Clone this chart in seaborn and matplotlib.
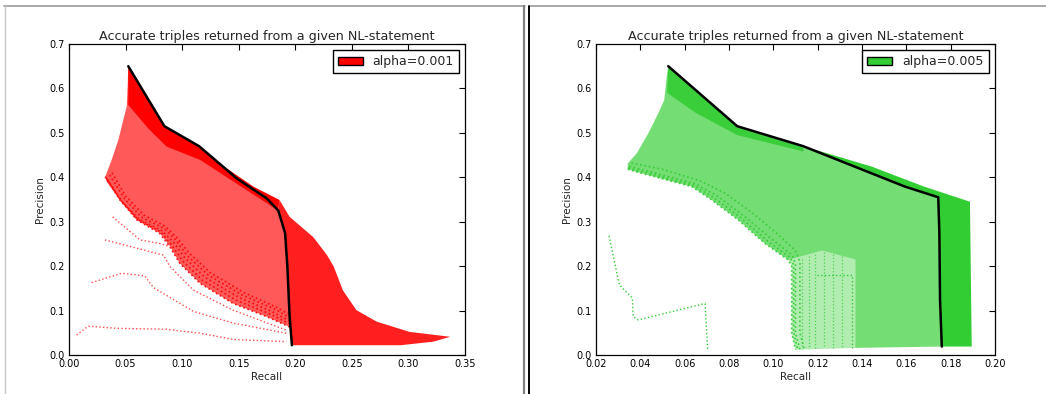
import numpy as np
import matplotlib
matplotlib.use('Agg')
import matplotlib.pyplot as plt
import seaborn as sns
from matplotlib.patches import Patch
from matplotlib.lines import Line2D

# ---------------- data ----------------
TITLE = "Accurate triples returned from a given NL-statement"

# Left panel (alpha=0.001)
L_black_r = [0.0524, 0.0843, 0.115, 0.148, 0.175, 0.185, 0.191, 0.193, 0.195, 0.197]
L_black_p = [0.650, 0.515, 0.470, 0.398, 0.352, 0.325, 0.274, 0.199, 0.086, 0.022]
L_left_r = [0.0524, 0.0518, 0.051, 0.048, 0.0436, 0.0377, 0.032]
L_left_p = [0.650, 0.604, 0.559, 0.529, 0.484, 0.439, 0.401]
L_low_r = [0.032, 0.0333, 0.045, 0.0598, 0.0804, 0.0893, 0.098, 0.116, 0.145, 0.175, 0.196]
L_low_p = [0.401, 0.390, 0.349, 0.304, 0.274, 0.244, 0.206, 0.161, 0.116, 0.086, 0.062]
L_band_r = [0.0524, 0.0524, 0.070, 0.0863, 0.116, 0.157, 0.185]
L_band_p = [0.650, 0.563, 0.510, 0.469, 0.439, 0.371, 0.325]
L_top_r = [0.128, 0.163, 0.186]
L_top_p = [0.440, 0.379, 0.349]
L_outer_r = [0.186, 0.195, 0.216, 0.228, 0.234, 0.242, 0.254, 0.272, 0.301, 0.337]
L_outer_p = [0.349, 0.311, 0.265, 0.225, 0.199, 0.146, 0.101, 0.075, 0.052, 0.041]
L_bottom_r = [0.337, 0.322, 0.293, 0.235, 0.197]
L_bottom_p = [0.041, 0.030, 0.022, 0.022, 0.022]
L_bundle = [
    ([0.032, 0.045, 0.060, 0.080, 0.089, 0.098, 0.116, 0.145, 0.175, 0.196],
     [0.401, 0.349, 0.304, 0.274, 0.244, 0.206, 0.161, 0.116, 0.086, 0.062]),
    ([0.033, 0.046, 0.061, 0.081, 0.090, 0.100, 0.118, 0.148, 0.178, 0.196],
     [0.398, 0.347, 0.305, 0.277, 0.250, 0.213, 0.168, 0.123, 0.092, 0.069]),
    ([0.034, 0.047, 0.062, 0.082, 0.092, 0.102, 0.120, 0.150, 0.180, 0.196],
     [0.395, 0.345, 0.305, 0.280, 0.255, 0.220, 0.175, 0.130, 0.097, 0.075]),
    ([0.036, 0.049, 0.064, 0.084, 0.094, 0.104, 0.123, 0.153, 0.182, 0.196],
     [0.405, 0.352, 0.310, 0.285, 0.260, 0.225, 0.180, 0.135, 0.103, 0.083]),
    ([0.038, 0.050, 0.066, 0.085, 0.095, 0.106, 0.125, 0.155, 0.183, 0.196],
     [0.410, 0.358, 0.315, 0.290, 0.265, 0.230, 0.185, 0.140, 0.108, 0.090]),
]
L_stray = [
    ([0.0067, 0.017, 0.042, 0.086, 0.116, 0.145, 0.192],
     [0.045, 0.065, 0.060, 0.058, 0.049, 0.035, 0.030]),
    ([0.020, 0.0466, 0.067, 0.0745, 0.110, 0.145, 0.192],
     [0.163, 0.184, 0.178, 0.152, 0.098, 0.072, 0.049]),
    ([0.0318, 0.0834, 0.0893, 0.110, 0.145, 0.192],
     [0.259, 0.225, 0.199, 0.146, 0.101, 0.056]),
    ([0.0386, 0.0628, 0.080, 0.089],
     [0.311, 0.259, 0.251, 0.244]),
]

# Right panel (alpha=0.005)
R_black_r = [0.0526, 0.0837, 0.1135, 0.1594, 0.1744, 0.1749, 0.1752, 0.176]
R_black_p = [0.650, 0.515, 0.470, 0.379, 0.355, 0.274, 0.124, 0.019]
R_left_r = [0.0526, 0.0519, 0.0508, 0.0481, 0.0436, 0.0384, 0.0343, 0.0343]
R_left_p = [0.650, 0.626, 0.574, 0.544, 0.499, 0.454, 0.431, 0.418]
R_low_r = [0.0343, 0.0406, 0.0632, 0.0722, 0.0842, 0.0962, 0.1068]
R_low_p = [0.418, 0.409, 0.379, 0.349, 0.304, 0.251, 0.214]
R_light_r = [0.1068, 0.1083, 0.1083, 0.110, 0.137, 0.137, 0.122]
R_light_p = [0.214, 0.199, 0.050, 0.012, 0.016, 0.215, 0.235]
R_band_r = [0.0526, 0.0521, 0.065, 0.0837, 0.1135]
R_band_p = [0.650, 0.590, 0.545, 0.495, 0.458]
R_top_r = [0.1135, 0.1444, 0.168, 0.1887]
R_top_p = [0.470, 0.424, 0.379, 0.345]
R_right_r = [0.1887, 0.1895, 0.176]
R_right_p = [0.345, 0.019, 0.019]
R_bundle = [
    ([0.0343, 0.0406, 0.0632, 0.0722, 0.0842, 0.0962, 0.1068, 0.1083, 0.1083, 0.110],
     [0.418, 0.409, 0.379, 0.349, 0.304, 0.251, 0.214, 0.199, 0.050, 0.012]),
    ([0.0346, 0.043, 0.064, 0.0735, 0.0855, 0.0975, 0.1077, 0.1092, 0.1092, 0.111],
     [0.421, 0.410, 0.382, 0.353, 0.308, 0.256, 0.219, 0.202, 0.050, 0.012]),
    ([0.035, 0.045, 0.065, 0.075, 0.087, 0.099, 0.1085, 0.110, 0.110, 0.112],
     [0.425, 0.412, 0.385, 0.357, 0.312, 0.262, 0.225, 0.205, 0.050, 0.012]),
    ([0.036, 0.050, 0.067, 0.078, 0.090, 0.102, 0.110, 0.112, 0.112, 0.114],
     [0.432, 0.418, 0.392, 0.365, 0.322, 0.272, 0.235, 0.210, 0.050, 0.012]),
]
R_vert_x = [0.113, 0.116, 0.119, 0.123, 0.127, 0.131]
R_vert_top = [0.215, 0.222, 0.228, 0.232, 0.228, 0.222]
R_vert_bot = [0.014, 0.014, 0.015, 0.015, 0.015, 0.016]
R_stray = [
    ([0.0259, 0.0305, 0.0364, 0.0368, 0.0391, 0.0692, 0.0696, 0.0704],
     [0.268, 0.158, 0.128, 0.086, 0.079, 0.116, 0.079, 0.011]),
    ([0.1196, 0.1353, 0.1353],
     [0.180, 0.180, 0.015]),
]

RED = '#ff0000'
GREEN = '#32cd32'

# ---------------- drawing ----------------
sns.set_style('white')
plt.rcParams['font.family'] = ['DejaVu Sans']

W, H = 1046, 394
fig = plt.figure(figsize=(W / 100, H / 100), dpi=100)
axL = fig.add_axes([69 / W, 39 / H, 396 / W, 311 / H])
axR = fig.add_axes([596 / W, 39 / H, 399 / W, 311 / H])


def cat(*arrs):
    return np.concatenate([np.asarray(a, dtype=float) for a in arrs])


def dotted(ax, r, p, color, lw=1.0, alpha=1.0):
    sns.lineplot(x=r, y=p, ax=ax, sort=False, estimator=None, color=color,
                 linestyle=':', linewidth=lw, alpha=alpha)


# ---- left ----
ax = axL
ax.fill(cat(L_left_r, L_low_r, L_black_r[::-1]),
        cat(L_left_p, L_low_p, L_black_p[::-1]), color=RED, alpha=0.65, lw=0)
ax.fill(cat(L_black_r[:6], L_band_r[::-1]), cat(L_black_p[:6], L_band_p[::-1]),
        color=RED, lw=0)
ax.fill(cat(L_black_r[2:6], L_top_r[::-1]), cat(L_black_p[2:6], L_top_p[::-1]),
        color=RED, lw=0)
ax.fill(cat(L_black_r[5:], L_bottom_r[::-1], L_outer_r[::-1]),
        cat(L_black_p[5:], L_bottom_p[::-1], L_outer_p[::-1]),
        color=RED, alpha=0.88, lw=0)
for r, p in L_bundle:
    dotted(ax, r, p, RED, lw=1.2, alpha=0.9)
for r, p in L_stray:
    dotted(ax, r, p, RED, lw=1.0, alpha=0.7)
sns.lineplot(x=L_black_r, y=L_black_p, ax=ax, sort=False, estimator=None,
             color='black', linewidth=1.8)
ax.set_xlim(0, 0.35)
ax.set_xticks(np.arange(0, 0.351, 0.05))
ax.set_xticklabels([f"{v:.2f}" for v in np.arange(0, 0.351, 0.05)])
ax.legend(handles=[Patch(facecolor=RED, edgecolor='black', label='alpha=0.001')],
          loc='upper right', fontsize=9, fancybox=False, edgecolor='black',
          framealpha=1)

# ---- right ----
ax = axR
ax.fill(cat(R_left_r, R_low_r, R_light_r[::-1][:3], [0.176], R_black_r[::-1]),
        cat(R_left_p, R_low_p, R_light_p[::-1][:3], [0.019], R_black_p[::-1]),
        color=GREEN, alpha=0.68, lw=0)
ax.fill(R_light_r, R_light_p, color=GREEN, alpha=0.38, lw=0)
ax.fill(cat(R_black_r[:3], R_band_r[::-1]), cat(R_black_p[:3], R_band_p[::-1]),
        color=GREEN, alpha=0.88, lw=0)
ax.fill(cat(R_black_r[2:], R_right_r[::-1][1:], R_top_r[::-1]),
        cat(R_black_p[2:], R_right_p[::-1][1:], R_top_p[::-1]),
        color=GREEN, lw=0)
for x, t, b in zip(R_vert_x, R_vert_top, R_vert_bot):
    dotted(ax, [x, x], [t, b], GREEN, lw=0.9, alpha=0.8)
for r, p in R_bundle:
    dotted(ax, r, p, GREEN, lw=1.2, alpha=0.95)
for r, p in R_stray:
    dotted(ax, r, p, GREEN, lw=1.0)
sns.lineplot(x=R_black_r, y=R_black_p, ax=ax, sort=False, estimator=None,
             color='black', linewidth=1.8)
ax.set_xlim(0.02, 0.20)
ax.set_xticks(np.arange(0.02, 0.201, 0.02))
ax.set_xticklabels([f"{v:.2f}" for v in np.arange(0.02, 0.201, 0.02)])
ax.legend(handles=[Patch(facecolor=GREEN, edgecolor='black', label='alpha=0.005')],
          loc='upper right', fontsize=9, fancybox=False, edgecolor='black',
          framealpha=1)

for ax in (axL, axR):
    ax.set_ylim(0, 0.7)
    ax.set_yticks(np.arange(0, 0.701, 0.1))
    ax.set_yticklabels([f"{v:.1f}" for v in np.arange(0, 0.701, 0.1)])
    ax.set_title(TITLE, fontsize=9.2, pad=3)
    ax.set_xlabel('Recall', fontsize=7.5, labelpad=2)
    ax.set_ylabel('Precision', fontsize=7.5, labelpad=3)
    ax.tick_params(direction='in', top=True, right=True, length=4, width=0.8,
                   labelsize=7, colors='black', pad=3)
    for s in ax.spines.values():
        s.set_color('black')
        s.set_linewidth(0.9)
        s.set_visible(True)

# screenshot frame lines
gray = '#9a9a9a'
yt = 1 - 5.5 / H
fig.add_artist(Line2D([4 / W, 524.5 / W], [yt, yt], color=gray, lw=1.2))
fig.add_artist(Line2D([530 / W, 1.0], [yt, yt], color=gray, lw=1.2))
fig.add_artist(Line2D([4.5 / W, 4.5 / W], [0, yt], color='#c8c8c8', lw=1.0))
fig.add_artist(Line2D([523.5 / W, 523.5 / W], [0, yt], color='#808080', lw=1.6))
fig.add_artist(Line2D([529.5 / W, 529.5 / W], [0, yt], color='black', lw=1.4))

fig.savefig('out.png', dpi=100)
